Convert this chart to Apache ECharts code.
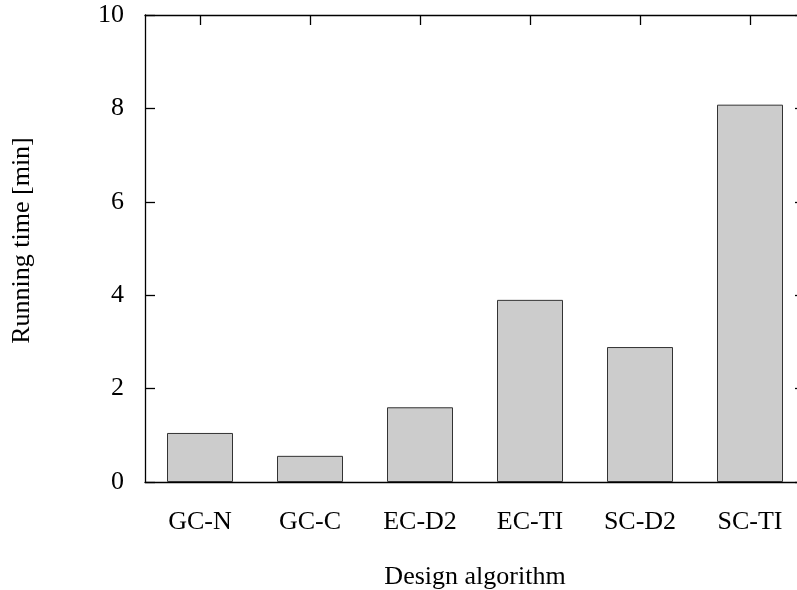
<!DOCTYPE html>
<html>
<head>
<meta charset="utf-8">
<script src="https://cdn.jsdelivr.net/npm/echarts@6/dist/echarts.min.js"></script>
<style>html,body{margin:0;padding:0;background:#fff;overflow:hidden}#c{width:820px;height:590px}</style>
</head>
<body>
<div id="c"></div>
<script>
const categories = ["GC-N", "GC-C", "EC-D2", "EC-TI", "SC-D2", "SC-TI"];
const runningTime = [1.05, 0.56, 1.6, 3.9, 2.89, 8.08];
const yMin = 0, yMax = 10, yStep = 2;
const xTitle = "Design algorithm";
const yTitle = "Running time [min]";

const font = "Liberation Serif";
const chart = echarts.init(document.getElementById('c'), null, {renderer: 'canvas'});
const axisLine = {show: true, onZero: false, lineStyle: {color: '#000', width: 1.3}};
const tick = {show: true, inside: true, length: 10, lineStyle: {color: '#000', width: 1.3}};
chart.setOption({
  animation: false,
  backgroundColor: '#fff',
  grid: {left: 145, top: 15, width: 660, height: 467, containLabel: false, outerBoundsMode: 'none'},
  xAxis: [{
    type: 'category', data: categories, position: 'bottom',
    axisLine: axisLine,
    axisTick: {show: false},
    axisLabel: {color: '#000', fontFamily: font, fontSize: 26, margin: 27},
    name: xTitle, nameLocation: 'middle', nameGap: 82,
    nameTextStyle: {color: '#000', fontFamily: font, fontSize: 26}
  }, {
    type: 'category', data: categories, position: 'top',
    axisLine: axisLine,
    axisTick: Object.assign({alignWithLabel: true}, tick),
    axisLabel: {show: false}
  }],
  yAxis: [{
    type: 'value', min: yMin, max: yMax, interval: yStep, position: 'left',
    axisLine: axisLine,
    axisTick: tick,
    splitLine: {show: false},
    axisLabel: {color: '#000', fontFamily: font, fontSize: 26, margin: 21},
    name: yTitle, nameLocation: 'middle', nameGap: 110,
    nameTextStyle: {color: '#000', fontFamily: font, fontSize: 26, padding: [0, 0, 0, 16]}
  }, {
    type: 'value', min: yMin, max: yMax, interval: yStep, position: 'right',
    axisLine: axisLine,
    axisTick: tick,
    splitLine: {show: false},
    axisLabel: {show: false}
  }],
  series: [{
    type: 'bar', data: runningTime, barWidth: '60%', xAxisIndex: 0, yAxisIndex: 0,
    itemStyle: {color: '#cccccc', borderColor: '#333', borderWidth: 1},
    z: 3
  }]
});
</script>
</body>
</html>
